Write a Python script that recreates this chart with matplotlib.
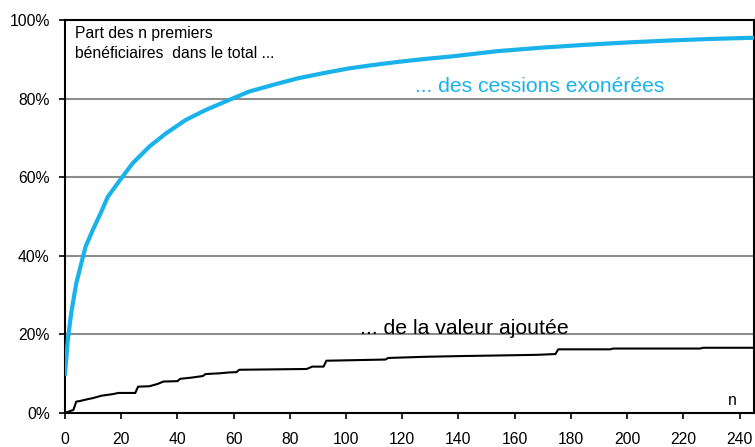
import matplotlib.pyplot as plt
import numpy as np

# part des n premiers beneficiaires (en %)
n_cessions = [0, 1, 2.2, 4, 5.8, 7.3, 9.9, 12.9, 15.2, 20, 24, 30, 36, 43, 50, 58.5, 65.5,
              75, 83, 92, 101, 110, 119, 128, 137, 154, 170, 185, 200, 215, 230, 245]
part_cessions = [10, 18.6, 25.4, 33, 38.1, 42.3, 46.6, 51.2, 55, 59.7, 63.5, 67.8, 71.2,
                 74.6, 77.1, 79.7, 81.8, 83.7, 85.2, 86.5, 87.7, 88.6, 89.4, 90.1, 90.7,
                 92.1, 93.0, 93.7, 94.3, 94.8, 95.2, 95.5]

n_va = [0, 3, 4, 5, 8, 10, 13, 17, 19, 25, 26, 30, 33, 35, 40, 41, 45, 49, 50, 55, 58,
        61, 62, 86, 88, 92, 93, 114, 115, 128, 142, 151, 168, 174.5, 175.5, 194, 195, 226, 227, 245]
part_va = [0, 0.8, 2.9, 3.0, 3.5, 3.8, 4.4, 4.8, 5.1, 5.1, 6.7, 6.8, 7.4, 8.0, 8.1, 8.7, 9.0, 9.4,
           9.9, 10.1, 10.3, 10.4, 11.0, 11.2, 11.8, 11.8, 13.3, 13.6, 14.0, 14.3, 14.5, 14.6, 14.8,
           15.0, 16.2, 16.2, 16.4, 16.4, 16.6, 16.6]

plt.rcParams['font.family'] = ['Liberation Sans', 'DejaVu Sans']

fig = plt.figure(figsize=(7.55, 4.47), dpi=100)
ax = fig.add_axes([0.0861, 0.0761, 0.912, 0.879])

for y in [20, 40, 60, 80]:
    ax.axhline(y, color='#8c8c8c', lw=1.5, zorder=1)

ax.plot(n_cessions, part_cessions, color='#1ab2ea', lw=3, zorder=3)
ax.plot(n_va, part_va, color='black', lw=1.5, zorder=3)

ax.set_xlim(0, 245)
ax.set_ylim(0, 100)
ax.set_xticks(range(0, 241, 20))
ax.set_yticks(range(0, 101, 20))
ax.set_yticklabels([f'{v}%' for v in range(0, 101, 20)])
ax.tick_params(labelsize=11.3, length=4, width=1.2, direction='out')
ax.tick_params(axis='x', pad=10)
ax.tick_params(axis='y', pad=7)
for s in ax.spines.values():
    s.set_linewidth(1.5)

ax.text(3.5, 98.5, 'Part des n premiers\nbénéficiaires  dans le total ...', fontsize=11.3,
        va='top', ha='left', linespacing=1.4)
ax.text(124.5, 83, '... des cessions exonérées', fontsize=15.2, color='#1ab2ea', ha='left', va='center')
ax.text(105, 21.6, '... de la valeur ajoutée', fontsize=15.3, color='black', ha='left', va='center')
ax.text(237.5, 3.2, 'n', fontsize=11.3, ha='center', va='center')

fig.savefig('out.png', dpi=100)
